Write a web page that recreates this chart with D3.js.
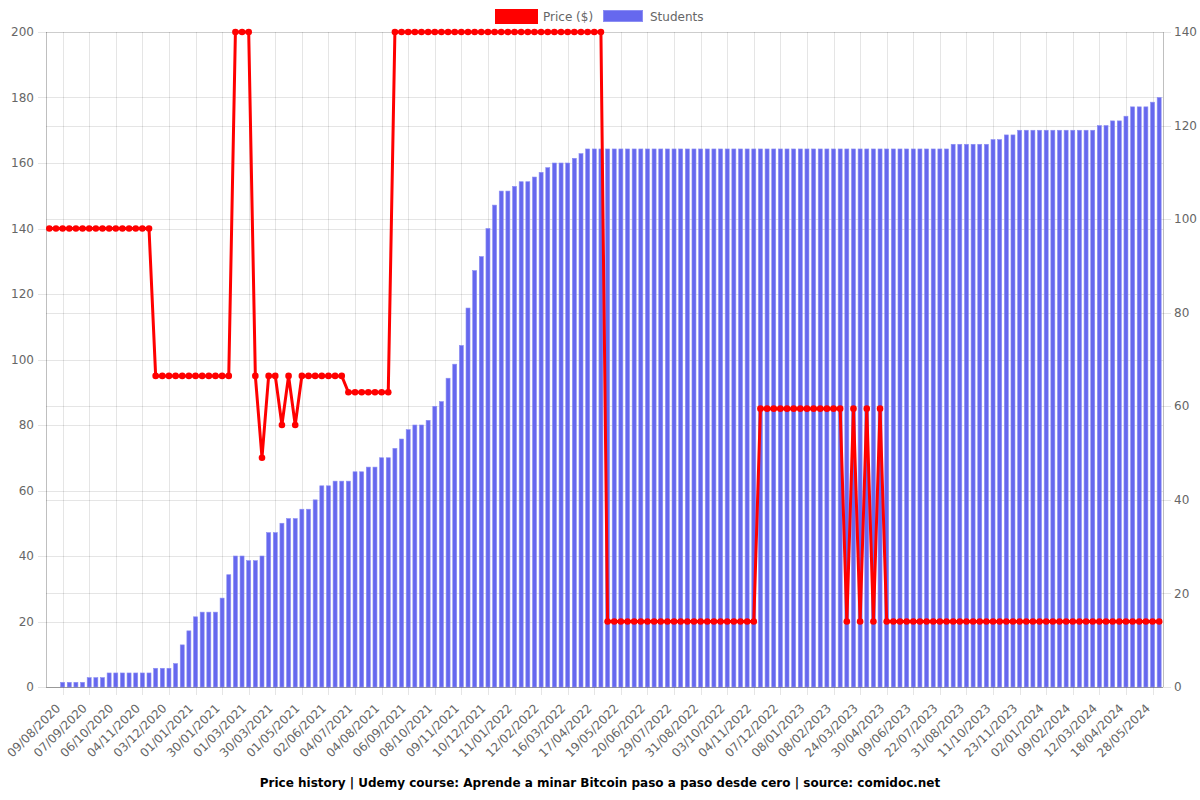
<!DOCTYPE html>
<html><head><meta charset="utf-8">
<script src="https://cdn.jsdelivr.net/npm/d3@7/dist/d3.min.js"></script>
<style>
body{margin:0;background:#fff}
svg{display:block}
text{font-family:"DejaVu Sans",sans-serif}
</style>
</head><body>
<svg id="chart" width="1200" height="800"></svg>
<script>
// ---------- DATA ----------
const tickLabels = ["09/08/2020","07/09/2020","06/10/2020","04/11/2020","03/12/2020","01/01/2021","30/01/2021","01/03/2021","30/03/2021","01/05/2021","02/06/2021","04/07/2021","04/08/2021","06/09/2021","08/10/2021","09/11/2021","10/12/2021","11/01/2022","12/02/2022","16/03/2022","17/04/2022","19/05/2022","20/06/2022","29/07/2022","31/08/2022","03/10/2022","04/11/2022","07/12/2022","08/01/2023","08/02/2023","24/03/2023","30/04/2023","09/06/2023","22/07/2023","31/08/2023","11/10/2023","23/11/2023","02/01/2024","09/02/2024","12/03/2024","18/04/2024","28/05/2024"];

const students = [
 0,0,1,1,1,1,2,2,2,3,3,3,3,3,3,3,4,4,4,5,
 9,12,15,16,16,16,19,24,28,28,27,27,28,33,33,35,36,36,38,38,
 40,43,43,44,44,44,46,46,47,47,49,49,51,53,55,56,56,57,60,
 61,66,69,73,
 81,89,92,98,103,106,106,107,108,108,109,110,111,112,112,112,113,114,115,
 115,115,115,115,115,115,115,115,115,115,115,115,115,115,115,115,115,115,
 115,115,115,115,115,115,115,115,115,115,115,115,115,115,115,115,115,115,
 115,115,115,115,115,115,115,115,115,115,115,115,115,115,115,115,115,115,
 116,116,116,116,116,116,
 117,117,118,118,
 119,119,119,119,119,119,119,119,119,119,119,119,
 120,120,121,121,122,124,124,124,125,126
];

const prices = [
 140,140,140,140,140,140,140,140,140,140,140,140,140,140,140,140,
 95,95,95,95,95,95,95,95,95,95,95,95,
 200,200,200,
 95,70,95,95,80,95,80,
 95,95,95,95,95,95,95,
 90,90,90,90,90,90,90,
 200,200,200,200,200,200,200,200,200,200,200,200,200,200,200,200,
 200,200,200,200,200,200,200,200,200,200,200,200,200,200,200,200,
 20,20,20,20,20,20,20,20,20,20,20,20,20,20,20,20,20,20,20,20,20,20,20,
 85,85,85,85,85,85,85,85,85,85,85,85,85,
 20,85,20,85,20,85,
 20,20,20,20,20,20,20,20,20,20,20,20,20,20,20,20,20,20,20,20,20,
 20,20,20,20,20,20,20,20,20,20,20,20,20,20,20,20,20,20,20,20,20
];

const priceTicks = [0,20,40,60,80,100,120,140,160,180,200];
const studentTicks = [0,20,40,60,80,100,120,140];
const seriesNames = ["Price ($)","Students"];
const titleText = "Price history | Udemy course: Aprende a minar Bitcoin paso a paso desde cero | source: comidoc.net";

// ---------- LAYOUT ----------
const plot = {left:46, right:1162.5, top:32, bottom:687};
const priceColor = "#ff0000";
const barColor = "#6668ee";
const barBorder = "#8c8ef3";
const gridColor = "rgba(0,0,0,0.1)";
const axisColor = "rgba(0,0,0,0.25)";
const labelColor = "#666";

const svg = d3.select("#chart");
const categories = d3.range(students.length);
const x = d3.scaleBand().domain(categories).range([plot.left, plot.right]).padding(0);
const cx = i => x(i) + x.bandwidth()/2;
const yL = d3.scaleLinear().domain([0,200]).range([plot.bottom, plot.top]);
const yR = d3.scaleLinear().domain([0,140]).range([plot.bottom, plot.top]);
const tickIdx = tickLabels.map((d,k) => 2 + 4*k);

// grid
const grid = svg.append("g").attr("shape-rendering","crispEdges");
grid.selectAll(".gv").data(tickIdx).join("line")
  .attr("x1", d => Math.round(cx(d))+0.5).attr("x2", d => Math.round(cx(d))+0.5)
  .attr("y1", plot.top).attr("y2", plot.bottom + 8)
  .attr("stroke", gridColor);
grid.selectAll(".gl").data(priceTicks).join("line")
  .attr("x1", plot.left - 8).attr("x2", plot.right)
  .attr("y1", d => Math.round(yL(d))+0.5).attr("y2", d => Math.round(yL(d))+0.5)
  .attr("stroke", gridColor);
grid.selectAll(".gr").data(studentTicks).join("line")
  .attr("x1", plot.left).attr("x2", plot.right + 8)
  .attr("y1", d => Math.round(yR(d))+0.5).attr("y2", d => Math.round(yR(d))+0.5)
  .attr("stroke", gridColor);

// bars
svg.append("g").selectAll("rect").data(students.map((v,i)=>({v,i})).filter(d=>d.v>0)).join("rect")
  .attr("x", d => cx(d.i) - 2)
  .attr("width", 4)
  .attr("y", d => yR(d.v))
  .attr("height", d => plot.bottom - yR(d.v))
  .attr("fill", barColor)
  .attr("stroke", barBorder).attr("stroke-width", 0.6);

// axes lines
const ax = svg.append("g").attr("shape-rendering","crispEdges").attr("stroke", axisColor);
ax.append("line").attr("x1", plot.left+0.5).attr("x2", plot.left+0.5).attr("y1", plot.top).attr("y2", plot.bottom);
ax.append("line").attr("x1", plot.right+0.5).attr("x2", plot.right+0.5).attr("y1", plot.top).attr("y2", plot.bottom);
ax.append("line").attr("x1", plot.left).attr("x2", plot.right).attr("y1", plot.bottom+0.5).attr("y2", plot.bottom+0.5);

// price line
const line = d3.line().x((d,i) => cx(i)).y(d => yL(d));
svg.append("path").datum(prices).attr("d", line)
  .attr("fill","none").attr("stroke", priceColor).attr("stroke-width", 3)
  .attr("stroke-linejoin","miter");
svg.append("g").selectAll("circle").data(prices).join("circle")
  .attr("cx", (d,i) => cx(i)).attr("cy", d => yL(d)).attr("r", 3.3)
  .attr("fill", priceColor);

// y labels
svg.append("g").selectAll("text").data(priceTicks).join("text")
  .attr("x", 34).attr("y", d => yL(d)).attr("dy","0.35em")
  .attr("text-anchor","end").attr("font-size",12).attr("fill",labelColor)
  .text(d => d);
svg.append("g").selectAll("text").data(studentTicks).join("text")
  .attr("x", 1174).attr("y", d => yR(d)).attr("dy","0.35em")
  .attr("text-anchor","start").attr("font-size",12).attr("fill",labelColor)
  .text(d => d);

// x labels
svg.append("g").selectAll("text").data(tickLabels).join("text")
  .attr("transform", (d,k) => `translate(${cx(tickIdx[k]) - 4.5},${706}) rotate(-45)`)
  .attr("dy","0.35em")
  .attr("text-anchor","end").attr("font-size",12).attr("fill",labelColor)
  .text(d => d);

// legend
const lg = svg.append("g");
lg.append("rect").attr("x",496.5).attr("y",10.5).attr("width",40).attr("height",12)
  .attr("fill",priceColor).attr("stroke",priceColor).attr("stroke-width",3);
lg.append("text").attr("x",543).attr("y",16.5).attr("dy","0.35em").attr("font-size",12).attr("fill",labelColor).text(seriesNames[0]);
lg.append("rect").attr("x",603.5).attr("y",10.5).attr("width",39).attr("height",11)
  .attr("fill",barColor).attr("stroke",barBorder).attr("stroke-width",1);
lg.append("text").attr("x",650).attr("y",16.5).attr("dy","0.35em").attr("font-size",12).attr("fill",labelColor).text(seriesNames[1]);

// title
svg.append("text").attr("x",600).attr("y",783).attr("dy","0.35em")
  .attr("text-anchor","middle").attr("font-size",12).attr("font-weight","bold").attr("fill","#000")
  .text(titleText);
</script>
</body></html>
